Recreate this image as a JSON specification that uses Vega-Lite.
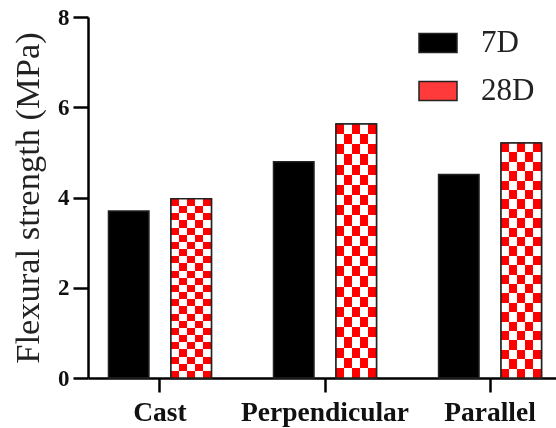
{
  "$schema": "https://vega.github.io/schema/vega-lite/v6.json",
  "autosize": "none",
  "width": 474,
  "height": 361,
  "padding": {"left": 88, "top": 17, "right": 0, "bottom": 50},
  "background": "white",
  "config": {
    "view": {"stroke": null},
    "font": "Liberation Serif"
  },
  "data": {
    "values": [
      {"group": "Cast", "series": "7D", "value": 3.70},
      {"group": "Cast", "series": "28D", "value": 3.97},
      {"group": "Perpendicular", "series": "7D", "value": 4.79},
      {"group": "Perpendicular", "series": "28D", "value": 5.63},
      {"group": "Parallel", "series": "7D", "value": 4.51},
      {"group": "Parallel", "series": "28D", "value": 5.21}
    ]
  },
  "encoding": {
    "x": {
      "field": "group", "type": "nominal", "sort": ["Cast", "Perpendicular", "Parallel"],
      "scale": {"paddingInner": 0.376, "paddingOuter": 0.124},
      "axis": {
        "title": null, "labelAngle": 0, "labelFont": "Liberation Serif", "labelFontSize": 27.5,
        "labelFontWeight": "bold", "labelColor": "#111", "labelPadding": 6,
        "domainColor": "#000", "domainWidth": 2.5, "tickColor": "#000", "tickWidth": 2.5, "tickSize": 14
      }
    },
    "xOffset": {"field": "series", "type": "nominal", "scale": {"domain": ["7D", "28D"], "paddingInner": 0.352, "paddingOuter": 0}},
    "y": {
      "field": "value", "type": "quantitative",
      "scale": {"domain": [0, 8], "nice": false},
      "axis": {
        "title": "Flexural strength (MPa)", "titleFont": "Liberation Serif", "titleFontSize": 34.5,
        "titleFontWeight": "normal", "titleColor": "#222", "titlePadding": 12,
        "values": [0, 2, 4, 6, 8], "grid": false,
        "labelFont": "Liberation Serif", "labelFontSize": 23, "labelFontWeight": "bold", "labelColor": "#111", "labelPadding": 4,
        "domainColor": "#000", "domainWidth": 2.5, "tickColor": "#000", "tickWidth": 2.5, "tickSize": 15
      }
    }
  },
  "layer": [
    {
      "mark": {"type": "bar", "stroke": "#222", "strokeWidth": 1.5},
      "encoding": {
        "color": {
          "field": "series", "type": "nominal",
          "scale": {"domain": ["7D", "28D"], "range": ["#000000", "#ff3a3a"]},
          "legend": {
            "title": null, "orient": "none", "legendX": 330, "legendY": 6, "padding": 0,
            "symbolType": "M-1,-0.5H1V0.5H-1Z", "symbolSize": 1444, "symbolOpacity": 1,
            "labelFont": "Liberation Serif", "labelFontSize": 31, "labelColor": "#222", "labelOffset": 23, "rowPadding": 13,
            "encode": {
              "symbols": {
                "stroke": {"value": "#222222"},
                "strokeWidth": {"value": 1.5}
              }
            }
          }
        }
      }
    },
    {
      "transform": [{"filter": "datum.series === '28D'"}],
      "mark": {"type": "bar", "fill": {"gradient": "linear", "x1": 0, "y1": 0, "x2": 1, "y2": 0, "stops": [
        {"offset": 0, "color": "#ff0000"}, {"offset": 0.2, "color": "#ff0000"}, {"offset": 0.2, "color": "#ffffff"}, {"offset": 0.4, "color": "#ffffff"}, {"offset": 0.4, "color": "#ff0000"}, {"offset": 0.6, "color": "#ff0000"}, {"offset": 0.6, "color": "#ffffff"}, {"offset": 0.8, "color": "#ffffff"}, {"offset": 0.8, "color": "#ff0000"}, {"offset": 1, "color": "#ff0000"}]}},
      "encoding": {}
    },
    {
      "transform": [{"filter": "datum.series === '28D'"}],
      "mark": {"type": "bar", "blend": "difference", "fill": {"gradient": "linear", "x1": 0, "y1": 0, "x2": 0, "y2": 1, "stops": [
        {"offset": 0, "color": "#000000"}, {"offset": 0.04, "color": "#000000"}, {"offset": 0.04, "color": "#00ffff"}, {"offset": 0.08, "color": "#00ffff"},
        {"offset": 0.08, "color": "#000000"}, {"offset": 0.12, "color": "#000000"}, {"offset": 0.12, "color": "#00ffff"}, {"offset": 0.16, "color": "#00ffff"},
        {"offset": 0.16, "color": "#000000"}, {"offset": 0.2, "color": "#000000"}, {"offset": 0.2, "color": "#00ffff"}, {"offset": 0.24, "color": "#00ffff"},
        {"offset": 0.24, "color": "#000000"}, {"offset": 0.28, "color": "#000000"}, {"offset": 0.28, "color": "#00ffff"}, {"offset": 0.32, "color": "#00ffff"},
        {"offset": 0.32, "color": "#000000"}, {"offset": 0.36, "color": "#000000"}, {"offset": 0.36, "color": "#00ffff"}, {"offset": 0.4, "color": "#00ffff"},
        {"offset": 0.4, "color": "#000000"}, {"offset": 0.44, "color": "#000000"}, {"offset": 0.44, "color": "#00ffff"}, {"offset": 0.48, "color": "#00ffff"},
        {"offset": 0.48, "color": "#000000"}, {"offset": 0.52, "color": "#000000"}, {"offset": 0.52, "color": "#00ffff"}, {"offset": 0.56, "color": "#00ffff"},
        {"offset": 0.56, "color": "#000000"}, {"offset": 0.6, "color": "#000000"}, {"offset": 0.6, "color": "#00ffff"}, {"offset": 0.64, "color": "#00ffff"},
        {"offset": 0.64, "color": "#000000"}, {"offset": 0.68, "color": "#000000"}, {"offset": 0.68, "color": "#00ffff"}, {"offset": 0.72, "color": "#00ffff"},
        {"offset": 0.72, "color": "#000000"}, {"offset": 0.76, "color": "#000000"}, {"offset": 0.76, "color": "#00ffff"}, {"offset": 0.8, "color": "#00ffff"},
        {"offset": 0.8, "color": "#000000"}, {"offset": 0.84, "color": "#000000"}, {"offset": 0.84, "color": "#00ffff"}, {"offset": 0.88, "color": "#00ffff"},
        {"offset": 0.88, "color": "#000000"}, {"offset": 0.92, "color": "#000000"}, {"offset": 0.92, "color": "#00ffff"}, {"offset": 0.96, "color": "#00ffff"},
        {"offset": 0.96, "color": "#000000"}, {"offset": 1, "color": "#000000"}]}},
      "encoding": {}
    },
    {
      "transform": [{"filter": "datum.series === '28D'"}],
      "mark": {"type": "bar", "fill": null, "fillOpacity": 0, "stroke": "#222", "strokeWidth": 1.5},
      "encoding": {}
    }
  ]
}
